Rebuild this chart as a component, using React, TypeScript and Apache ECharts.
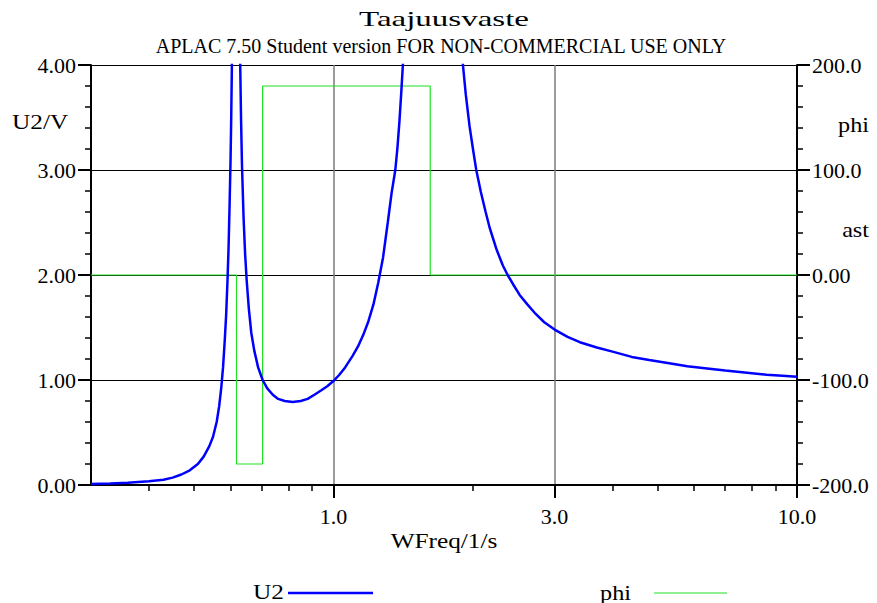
import React, { useEffect, useRef } from 'react';
import * as echarts from 'echarts';

// U2 magnitude (frequency in 1/s, value in V)
const freqU2 = [
  0.3, 0.33, 0.36, 0.4, 0.43, 0.45, 0.47, 0.49, 0.51, 0.525, 0.54, 0.55, 0.56, 0.567, 0.573, 0.578, 0.583, 0.587,
  0.591, 0.594, 0.597, 0.6, 0.602, 0.604, 0.608, 0.612,
  0.622, 0.627, 0.6295, 0.632, 0.635, 0.64, 0.645, 0.65, 0.657, 0.665, 0.675, 0.688, 0.7036, 0.72, 0.74, 0.76,
  0.785, 0.817, 0.85, 0.88, 0.91, 0.94, 0.97, 1.0, 1.03, 1.06, 1.1, 1.13, 1.16, 1.19, 1.22, 1.25, 1.28, 1.31,
  1.335, 1.36, 1.375, 1.388, 1.4, 1.412, 1.44, 1.5,
  1.8, 1.87, 1.903, 1.93, 1.966, 2.0, 2.033, 2.08, 2.13, 2.173, 2.25, 2.32, 2.376, 2.45, 2.522, 2.62, 2.717,
  2.85, 3.0, 3.2, 3.4, 3.7, 4.0, 4.4, 4.8, 5.3, 5.8, 6.4, 7.0, 7.8, 8.6, 9.3, 10.0,
];
const valuesU2 = [
  0.01, 0.015, 0.022, 0.035, 0.05, 0.07, 0.1, 0.14, 0.2, 0.27, 0.37, 0.46, 0.6, 0.75, 0.93, 1.12, 1.38, 1.62,
  1.95, 2.25, 2.65, 3.1, 3.5, 4.0, 5.5, 9.0,
  9.0, 5.0, 4.0, 3.5, 3.05, 2.55, 2.2, 1.95, 1.68, 1.45, 1.28, 1.12, 1.0, 0.92, 0.86, 0.82,
  0.8, 0.79, 0.8, 0.82, 0.86, 0.9, 0.94, 0.99, 1.05, 1.12, 1.23, 1.32, 1.43, 1.56, 1.72, 1.93, 2.17, 2.5,
  2.78, 3.0, 3.22, 3.46, 3.72, 4.0, 4.8, 7.0,
  7.0, 4.7, 4.0, 3.72, 3.42, 3.2, 3.0, 2.79, 2.6, 2.45, 2.24, 2.09, 2.0, 1.9, 1.81, 1.72, 1.64,
  1.55, 1.48, 1.41, 1.36, 1.31, 1.27, 1.22, 1.19, 1.16, 1.13, 1.11, 1.09, 1.07, 1.05, 1.04, 1.03,
];

// phase "phi" (degrees)
const freqPhi = [0.3, 0.618, 0.618, 0.7036, 0.7036, 1.6176, 1.6176, 10.0];
const valuesPhi = [0, 0, -180, -180, 180, 180, 0, 0];

const xMin = 0.3;
const xMax = 10;
const xMajorTicks = [1, 3, 10];
const xMinorTicks = [0.4, 0.5, 0.6, 0.7, 0.8, 0.9, 2, 4, 5, 6, 7, 8, 9];

const SERIF = 'Liberation Serif, Times New Roman, serif';
const BLUE = '#0000ff';
const GREEN = '#22e022';

export default function App() {
  const ref = useRef<HTMLDivElement>(null);
  useEffect(() => {
    if (!ref.current) return;
    const chart = echarts.init(ref.current, null, { renderer: 'svg' });
    const lg = (v: number) => Math.log10(v);
    const labelStyle = { color: '#000', fontSize: 22, fontFamily: SERIF };
    const txt = (text: string, x: number, y: number, align: string, size = 22, family = SERIF, scaleX = 1) => ({
      type: 'text', x, y, scaleX,
      style: { text, fill: '#000', fontSize: size, fontFamily: family, align, verticalAlign: 'middle' },
    });
    chart.setOption({
      animation: false,
      backgroundColor: '#fff',
      grid: { left: 91, right: 80, top: 65, bottom: 118, containLabel: false },
      graphic: [
        txt('Taajuusvaste', 444, 19, 'center', 22, SERIF, 1.5),
        txt('APLAC 7.50 Student version FOR NON-COMMERCIAL USE ONLY', 441, 46, 'center', 20),
        txt('U2/V', 12, 122, 'left', 22, SERIF, 1.15),
        txt('phi', 869, 124, 'right', 22, SERIF, 1.1),
        txt('ast', 869, 229, 'right', 22, SERIF, 1.1),
        txt('WFreq/1/s', 444, 541, 'center', 22, SERIF, 1.15),
        txt('U2', 284, 592, 'right', 22, SERIF, 1.15),
        { type: 'line', shape: { x1: 288, y1: 593, x2: 373, y2: 593 }, style: { stroke: BLUE, lineWidth: 2.5 } },
        txt('phi', 631, 592, 'right', 22, SERIF, 1.1),
        { type: 'line', shape: { x1: 654, y1: 593, x2: 727, y2: 593 }, style: { stroke: GREEN, lineWidth: 1.2 } },
      ],
      xAxis: [
        {
          type: 'value', min: lg(xMin), max: lg(xMax), position: 'bottom',
          axisLine: { show: true, onZero: false, lineStyle: { color: '#000', width: 2 } },
          axisTick: { show: true, length: 13, lineStyle: { color: '#000', width: 2 }, customValues: xMajorTicks.map(lg) },
          axisLabel: {
            ...labelStyle, margin: 20, customValues: xMajorTicks.map(lg),
            formatter: (v: number) => Math.pow(10, v).toFixed(1),
          },
          splitLine: { show: true, lineStyle: { color: '#7a7a7a', width: 1.5 } },
        },
        {
          type: 'value', min: lg(xMin), max: lg(xMax), position: 'bottom',
          axisLine: { show: false, onZero: false },
          axisTick: { show: true, length: 6, lineStyle: { color: '#000', width: 1.5 }, customValues: xMinorTicks.map(lg) },
          axisLabel: { show: false },
          splitLine: { show: false },
        },
      ],
      yAxis: [
        {
          type: 'value', min: 0, max: 4, interval: 1, position: 'left',
          axisLine: { show: true, onZero: false, lineStyle: { color: '#000', width: 2 } },
          axisTick: { show: true, length: 13, lineStyle: { color: '#000', width: 2 } },
          minorTick: { show: true, splitNumber: 5, length: 6, lineStyle: { color: '#000', width: 1.5 } },
          axisLabel: { ...labelStyle, margin: 15, formatter: (v: number) => v.toFixed(2) },
          splitLine: { show: true, lineStyle: { color: '#000', width: 1 } },
        },
        {
          type: 'value', min: -200, max: 200, interval: 100, position: 'right',
          axisLine: { show: true, onZero: false, lineStyle: { color: '#000', width: 2 } },
          axisTick: { show: true, length: 13, lineStyle: { color: '#000', width: 2 } },
          minorTick: { show: true, splitNumber: 5, length: 6, lineStyle: { color: '#000', width: 1.5 } },
          axisLabel: { ...labelStyle, margin: 15, formatter: (v: number) => (v === 0 ? '0.00' : v.toFixed(1)) },
          splitLine: { show: false },
        },
      ],
      series: [
        {
          name: 'U2', type: 'line', xAxisIndex: 0, yAxisIndex: 0, showSymbol: false, symbol: 'none', smooth: false,
          clip: true, z: 3, color: BLUE,
          lineStyle: { color: BLUE, width: 2.5 },
          data: freqU2.map((f, i) => [lg(f), valuesU2[i]]),
        },
        {
          name: 'phi', type: 'line', xAxisIndex: 0, yAxisIndex: 1, showSymbol: false, symbol: 'none',
          clip: true, z: 2, color: GREEN,
          lineStyle: { color: GREEN, width: 1.2 },
          data: freqPhi.map((f, i) => [lg(f), valuesPhi[i]]),
        },
      ],
    });
    return () => chart.dispose();
  }, []);
  return <div ref={ref} style={{ width: 877, height: 603, position: 'absolute', left: 0, top: 0 }} />;
}
